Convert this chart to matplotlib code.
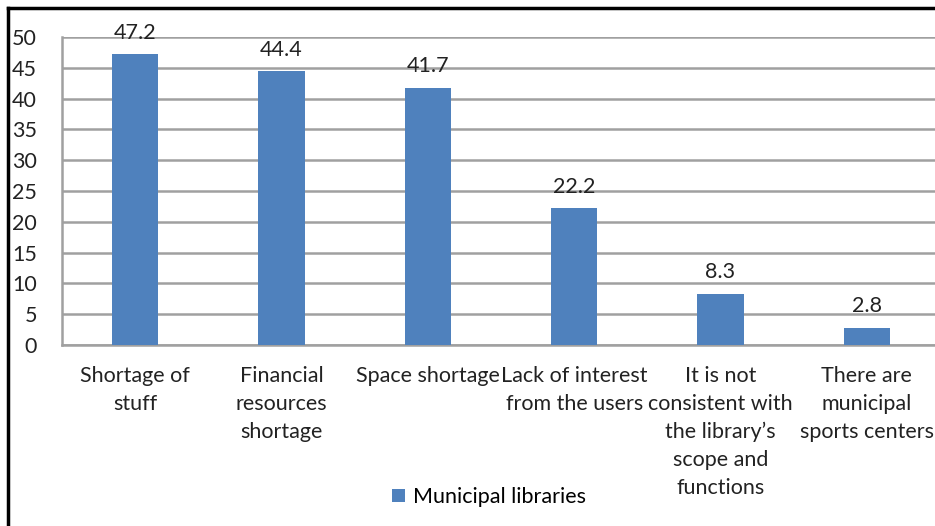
import numpy as np
import matplotlib
matplotlib.use('Agg')
from matplotlib import pyplot as plt
from matplotlib.lines import Line2D

# chart data
categories = ['Shortage of\nstuff', 'Financial\nresources\nshortage', 'Space shortage',
              'Lack of interest\nfrom the users',
              'It is not\nconsistent with\nthe library\u2019s\nscope and\nfunctions',
              'There are\nmunicipal\nsports centers']
values = [47.2, 44.4, 41.7, 22.2, 8.3, 2.8]
value_labels = ['47.2', '44.4', '41.7', '22.2', '8.3', '2.8']
series_name = 'Municipal libraries'
y_ticks = [0, 5, 10, 15, 20, 25, 30, 35, 40, 45, 50]

plt.rcParams['font.family'] = ['Lato', 'DejaVu Sans']
fs = 15.5

fig = plt.figure(figsize=(9.35, 5.26), dpi=100)
ax = fig.add_axes([62 / 935, (526 - 345) / 526, 878 / 935, 308 / 526])

x = np.arange(len(categories))
bars = ax.bar(x, values, width=0.315, color='#4F81BD', label=series_name, zorder=3)

for b, lab in zip(bars, value_labels):
    ax.text(b.get_x() + b.get_width() / 2, b.get_height() + 1.9, lab,
            ha='center', va='bottom', fontsize=fs, color='#222222', zorder=4)

ax.set_xlim(-0.5, len(categories) - 0.5)
ax.set_ylim(0, 50)
ax.set_yticks(y_ticks)
ax.set_xticks(x)
ax.set_xticklabels(categories, fontsize=fs, linespacing=1.5, color='#222222')
ax.tick_params(axis='y', length=0, pad=18, labelsize=fs, labelcolor='#222222')
ax.tick_params(axis='x', length=0, pad=15)
ax.grid(axis='y', color='#A0A0A0', linewidth=1.8, zorder=0)

for side in ['top', 'right']:
    ax.spines[side].set_visible(False)
ax.spines['left'].set_color('#A0A0A0')
ax.spines['left'].set_linewidth(1.8)
ax.spines['bottom'].set_color('#A0A0A0')
ax.spines['bottom'].set_linewidth(1.8)

fig.legend(handles=[bars], labels=[series_name], loc='center', bbox_to_anchor=(489 / 935, 1 - 497 / 526),
           frameon=False, fontsize=fs, handlelength=0.6, handleheight=0.6, handletextpad=0.4)

# black frame at left and top
fig.add_artist(Line2D([8 / 935, 8 / 935], [0, 1 - 8 / 526], color='black', linewidth=2.5))
fig.add_artist(Line2D([8 / 935, 1], [1 - 8 / 526, 1 - 8 / 526], color='black', linewidth=2.5))

fig.savefig('out.png', dpi=100)
